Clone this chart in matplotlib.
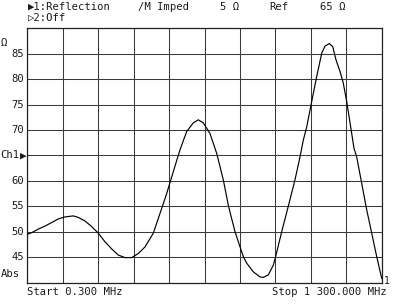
import matplotlib
matplotlib.use("Agg")
import matplotlib.pyplot as plt
import numpy as np

# ---- data (frequency in MHz, impedance magnitude in ohm) ----
freq_mhz = [0.3, 16.4, 40.6, 65.2, 89.8, 114, 138.6, 169, 187.3, 211.9, 236.5,
            260.7, 285.3, 309.8, 334, 358.6, 383.2, 407.4, 432, 462.4, 487,
            511.5, 535.7, 560.3, 584.9, 609.1, 627.4, 645.8, 670.3, 694.9,
            719.1, 738.2, 762, 782.9, 793.2, 805, 829.1, 853.7, 865.8, 884.1,
            902.5, 910.6, 933.3, 957.5, 982, 1000.4, 1012.5, 1025, 1043.3,
            1061.6, 1080, 1092.1, 1107.9, 1120.3, 1132.4, 1147.1, 1159.2,
            1171.6, 1186.3, 1198.4, 1208.3, 1226.7, 1245, 1263.4, 1281.7, 1300]
imped_ohm = [49.5, 49.8, 50.5, 51.1, 51.8, 52.5, 52.9, 53.1, 52.8, 52.1, 51.0,
             49.7, 48.0, 46.6, 45.4, 44.9, 44.9, 45.7, 47.0, 49.7, 53.6,
             57.5, 61.8, 66.1, 69.7, 71.4, 72.0, 71.4, 69.3, 65.4,
             60.2, 55.0, 50.0, 46.6, 45.0, 43.8, 42.1, 41.1, 41.0, 41.5,
             43.4, 45.0, 50.0, 55.0, 60.2, 64.7, 68.0, 70.6, 75.6,
             80.5, 85.1, 86.5, 87.0, 86.4, 83.8, 81.5, 79.2,
             75.6, 70.6, 66.4, 64.7, 59.5, 54.3, 49.7, 45.1, 40.8]

start_mhz = 0.3
stop_mhz = 1300.0
y_min, y_max = 40, 90
y_ticks = [85, 80, 75, 70, 60, 55, 50, 45]
y_tick_labels = ["85", "80", "75", "70", "60", "55", "50", "45"]
ref_value = 65

header_items = ["\u25b61:Reflection", "/M Imped", "5 \u03a9", "Ref", "65 \u03a9"]
header_line2 = "\u25b72:Off"
start_label = "Start 0.300 MHz"
stop_label = "Stop 1 300.000 MHz"

# ---- figure ----
W, H = 400, 308
fig = plt.figure(figsize=(W / 100, H / 100), dpi=100)
fig.patch.set_facecolor("white")

FAM = ["DejaVu Sans Mono", "DejaVu Sans"]
FS = 7.6
TC = "#1a1a1a"

left_px, right_px, top_px, bottom_px = 27.3, 381.7, 28.3, 282.5
ax = fig.add_axes([left_px / W, 1 - bottom_px / H,
                   (right_px - left_px) / W, (bottom_px - top_px) / H])

ax.plot(freq_mhz, imped_ohm, color="black", lw=0.85, zorder=3)
ax.set_xlim(start_mhz, stop_mhz)
ax.set_ylim(y_min, y_max)

ax.set_xticks(np.linspace(start_mhz, stop_mhz, 11))
ax.set_yticks(np.arange(y_min, y_max + 1, 5))
ax.grid(True, color="#3a3a3a", lw=0.75)
ax.set_axisbelow(True)
ax.tick_params(length=0, labelbottom=False, labelleft=False)
for s in ax.spines.values():
    s.set_color("#222222")
    s.set_linewidth(0.9)


def px(x, y):
    return x / W, 1 - y / H


def ftext(x, y, s, ha="left", va="center", fs=FS):
    fig.text(*px(x, y), s, ha=ha, va=va, fontsize=fs, family=FAM, color=TC)


# y labels
trans = ax.get_yaxis_transform()
for v, lab in zip(y_ticks, y_tick_labels):
    ax.text(-0.008, v, lab, transform=trans, ha="right", va="center",
            fontsize=FS, family=FAM, color=TC)
ax.text(-0.077, ref_value, "Ch1", transform=trans, ha="left", va="center",
        fontsize=FS, family=FAM, color=TC)
ax.text(-0.001, ref_value, "\u25b6", transform=trans, ha="right", va="center",
        fontsize=8, family=FAM, color=TC)
ftext(0.5, 274, "Abs")
ftext(1, 43, "\u03a9")

# header
hx = [28, 138, 220, 269, 320]
for x, s in zip(hx, header_items):
    ftext(x, 7, s)
ftext(28, 18, header_line2)

# footer
ftext(27, 292, start_label)
ftext(387, 292, stop_label, ha="right")

# trace end marker
ftext(384, 281, "1", fs=7)

fig.savefig("out.png", dpi=100, facecolor="white")
